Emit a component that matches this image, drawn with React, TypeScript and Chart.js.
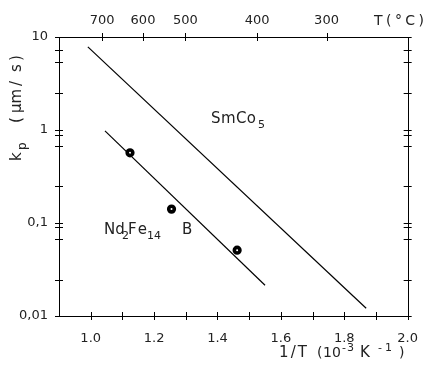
import { useEffect, useRef } from 'react';
import { Chart, registerables } from 'chart.js';
Chart.register(...registerables);

// ---- data ----
const smco5X = [0.991, 1.869];
const smco5Y = [7.84, 0.0121];
const ndLineX = [1.045, 1.55];
const ndLineY = [0.98, 0.0214];
const ndPointX = [1.124, 1.255, 1.462];
const ndPointY = [0.568, 0.141, 0.051];

const yTickValues = [10, 7.3, 5.4, 2.5, 1, 0.88, 0.68, 0.25, 0.1, 0.09, 0.068, 0.0245, 0.01];
const yLabelValues = [10, 1, 0.1, 0.01];
const yLabelTexts = ['10', '1', '0,1', '0,01'];
const xTickValues = [1.0, 1.1, 1.2, 1.3, 1.4, 1.5, 1.6, 1.7, 1.8, 1.9, 2.0];
const xLabelValues = [1.0, 1.2, 1.4, 1.6, 1.8, 2.0];
const topTickPositions = [1.036, 1.165, 1.299, 1.525, 1.744];
const topTickLabels = ['700', '600', '500', '400', '300'];

const FONT = 'DejaVu Sans';
const INK = '#000';

function drawSpaced(ctx: CanvasRenderingContext2D, text: string, x: number, y: number, width?: number) {
  const chars = Array.from(text);
  const base = chars.reduce((s, c) => s + ctx.measureText(c).width, 0);
  const ls = width !== undefined && chars.length > 1 ? Math.max(0, (width - base) / (chars.length - 1)) : 0;
  let cx = x;
  for (const c of chars) {
    ctx.fillText(c, cx, y);
    cx += ctx.measureText(c).width + ls;
  }
}

const framePlugin = {
  id: 'frame',
  afterDraw(chart: any) {
    const { ctx, chartArea, scales } = chart;
    const { left, right, top, bottom } = chartArea;
    ctx.save();
    ctx.strokeStyle = INK;
    ctx.lineWidth = 1;
    ctx.beginPath();
    ctx.rect(Math.round(left) + 0.5, Math.round(top) + 0.5, Math.round(right - left), Math.round(bottom - top));
    ctx.stroke();
    const T = 4;
    ctx.beginPath();
    for (const t of scales.x.ticks) {
      const px = Math.round(scales.x.getPixelForValue(t.value)) + 0.5;
      ctx.moveTo(px, bottom - T);
      ctx.lineTo(px, bottom + T);
    }
    for (const t of scales.x2.ticks) {
      const px = Math.round(scales.x2.getPixelForValue(t.value)) + 0.5;
      ctx.moveTo(px, top - T);
      ctx.lineTo(px, top + T);
    }
    for (const t of scales.y.ticks) {
      const py = Math.round(scales.y.getPixelForValue(t.value)) + 0.5;
      ctx.moveTo(left - T, py);
      ctx.lineTo(left + T, py);
      ctx.moveTo(right - T, py);
      ctx.lineTo(right + T, py);
    }
    ctx.stroke();

    ctx.fillStyle = '#222';
    ctx.textBaseline = 'alphabetic';
    ctx.textAlign = 'left';
    const big = `14px "${FONT}"`;
    const lab = `15px "${FONT}"`;
    const small = `11px "${FONT}"`;

    // top axis title
    ctx.font = big;
    drawSpaced(ctx, 'T(°C)', 374, 25, 50);

    // bottom axis title
    ctx.font = lab;
    drawSpaced(ctx, '1/T', 279, 357, 28);
    ctx.font = big;
    drawSpaced(ctx, '(', 317, 357);
    drawSpaced(ctx, '10', 323, 357, 15);
    ctx.font = small;
    drawSpaced(ctx, '-3', 342, 351, 12);
    ctx.font = lab;
    drawSpaced(ctx, 'K', 360, 357);
    ctx.font = small;
    drawSpaced(ctx, '-1', 378, 351, 14);
    ctx.font = big;
    drawSpaced(ctx, ')', 399, 357);

    // series labels
    ctx.font = lab;
    drawSpaced(ctx, 'SmCo', 211, 123, 45);
    ctx.font = small;
    drawSpaced(ctx, '5', 258, 128);
    ctx.font = lab;
    drawSpaced(ctx, 'Nd', 104, 234, 18);
    ctx.font = small;
    drawSpaced(ctx, '2', 122, 239);
    ctx.font = lab;
    drawSpaced(ctx, 'Fe', 128, 234, 19);
    ctx.font = small;
    drawSpaced(ctx, '14', 147, 239, 10);
    ctx.font = lab;
    drawSpaced(ctx, 'B', 182, 234);

    // y axis title (rotated)
    ctx.translate(21, 161);
    ctx.rotate(-Math.PI / 2);
    ctx.font = lab;
    drawSpaced(ctx, 'k', 0, 0);
    ctx.font = `12px "${FONT}"`;
    drawSpaced(ctx, 'p', 11, 5);
    ctx.font = lab;
    drawSpaced(ctx, '(', 38, 0);
    drawSpaced(ctx, 'μm', 48, 0);
    drawSpaced(ctx, '/', 75, 0);
    drawSpaced(ctx, 's', 89, 0);
    drawSpaced(ctx, ')', 100, 0);
    ctx.restore();
  },
};

export default function App() {
  const ref = useRef<HTMLCanvasElement>(null);
  useEffect(() => {
    if (!ref.current) return;
    const tickFont = { family: FONT, size: 13 };
    const chart = new Chart(ref.current, {
      type: 'scatter',
      data: {
        datasets: [
          {
            data: smco5X.map((x, i) => ({ x, y: smco5Y[i] })),
            showLine: true,
            borderColor: INK,
            borderWidth: 1.2,
            pointRadius: 0,
          },
          {
            data: ndLineX.map((x, i) => ({ x, y: ndLineY[i] })),
            showLine: true,
            borderColor: INK,
            borderWidth: 1.2,
            pointRadius: 0,
          },
          {
            data: ndPointX.map((x, i) => ({ x, y: ndPointY[i] })),
            showLine: false,
            pointRadius: 2.8,
            pointBorderWidth: 3.6,
            pointBackgroundColor: '#fff',
            pointBorderColor: '#000',
          },
        ],
      },
      options: {
        animation: false,
        responsive: false,
        devicePixelRatio: 1,
        layout: { padding: { left: 0, right: 11, top: 0, bottom: 0 } },
        plugins: { legend: { display: false }, tooltip: { enabled: false } },
        scales: {
          x: {
            type: 'linear',
            position: 'bottom',
            min: 0.9,
            max: 2.0,
            afterBuildTicks: (s: any) => {
              s.ticks = xTickValues.map((v) => ({ value: v }));
            },
            afterFit: (s: any) => {
              s.height = 51;
            },
            grid: { display: false, drawTicks: false },
            border: { display: false },
            ticks: {
              autoSkip: false,
              maxRotation: 0,
              padding: 15,
              color: '#222',
              font: tickFont,
              callback: (v: any) => (xLabelValues.some((l) => Math.abs(l - v) < 1e-6) ? Number(v).toFixed(1) : ''),
            },
          },
          x2: {
            type: 'linear',
            position: 'top',
            min: 0.9,
            max: 2.0,
            afterBuildTicks: (s: any) => {
              s.ticks = topTickPositions.map((v) => ({ value: v }));
            },
            afterFit: (s: any) => {
              s.height = 37;
            },
            grid: { display: false, drawTicks: false },
            border: { display: false },
            ticks: {
              autoSkip: false,
              maxRotation: 0,
              padding: 9,
              color: '#222',
              font: tickFont,
              callback: (_v: any, i: number) => topTickLabels[i],
            },
          },
          y: {
            type: 'logarithmic',
            min: 0.01,
            max: 10,
            afterBuildTicks: (s: any) => {
              s.ticks = yTickValues.map((v) => ({ value: v }));
            },
            afterFit: (s: any) => {
              s.width = 59;
            },
            grid: { display: false, drawTicks: false },
            border: { display: false },
            ticks: {
              autoSkip: false,
              padding: 11,
              color: '#222',
              font: tickFont,
              callback: (v: any) => {
                const i = yLabelValues.findIndex((l) => Math.abs(Math.log10(l) - Math.log10(v)) < 1e-6);
                return i >= 0 ? yLabelTexts[i] : '';
              },
            },
          },
        },
      },
      plugins: [framePlugin],
    } as any);
    return () => chart.destroy();
  }, []);
  return (
    <canvas
      ref={ref}
      width={433}
      height={367}
      style={{ position: 'fixed', left: 0, top: 0, width: 433, height: 367, background: '#fff' }}
    />
  );
}
